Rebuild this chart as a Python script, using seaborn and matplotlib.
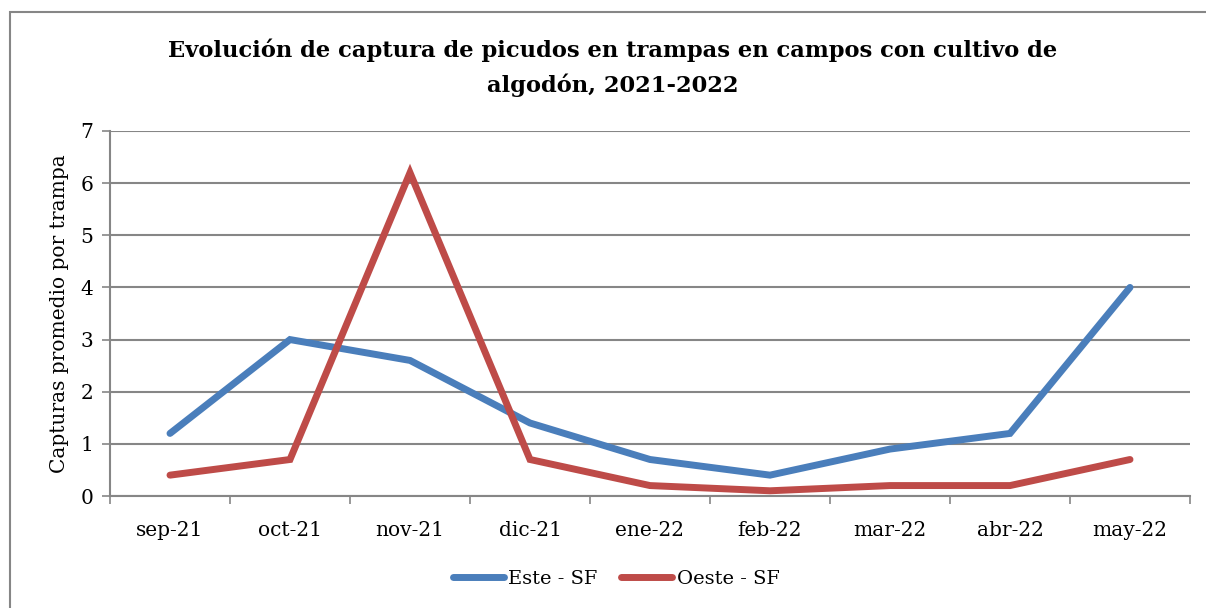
import matplotlib
matplotlib.use("Agg")
import matplotlib.pyplot as plt
import seaborn as sns
import pandas as pd
from matplotlib.patches import Rectangle
from matplotlib.lines import Line2D

months = ["sep-21", "oct-21", "nov-21", "dic-21", "ene-22", "feb-22", "mar-22", "abr-22", "may-22"]
este = [1.2, 3.0, 2.6, 1.4, 0.7, 0.4, 0.9, 1.2, 4.0]
oeste = [0.4, 0.7, 6.2, 0.7, 0.2, 0.1, 0.2, 0.2, 0.7]
series_names = ["Este - SF", "Oeste - SF"]
colors = ["#4A7EBB", "#BE4B48"]

df = pd.DataFrame({
    "mes": list(range(len(months))) * 2,
    "valor": este + oeste,
    "serie": [series_names[0]] * len(months) + [series_names[1]] * len(months),
})

sns.set_theme(style="white")
plt.rcParams["font.family"] = ["DejaVu Serif"]
plt.rcParams["text.color"] = "black"
plt.rcParams["xtick.color"] = "black"
plt.rcParams["ytick.color"] = "black"
plt.rcParams["axes.labelcolor"] = "black"

fig = plt.figure(figsize=(12.06, 6.08), dpi=100)
ax = fig.add_axes([110/1206, 1-496/608, 1080/1206, 365/608])

sns.lineplot(data=df, x="mes", y="valor", hue="serie", palette=colors, ax=ax,
             linewidth=5, legend=False, solid_capstyle="round", solid_joinstyle="miter")

ax.set_xlim(-0.5, len(months) - 0.5)
ax.set_ylim(0, 7)
ax.set_yticks(range(0, 8))
ax.yaxis.grid(True, color="#868686", linewidth=1.5)
ax.set_axisbelow(True)
ax.set_xticks(range(len(months)))
ax.set_xticklabels(months, fontsize=14.5)
ax.tick_params(axis="x", length=0, pad=18)
ax.set_xticks([i - 0.5 for i in range(len(months) + 1)], minor=True)
ax.tick_params(axis="x", which="minor", length=6, width=1.2, color="#868686", direction="out", bottom=True)
ax.tick_params(axis="y", labelsize=14.5, length=6, width=1.2, color="#868686", left=True, pad=6)
for s in ["top", "right"]:
    ax.spines[s].set_visible(False)
for s in ["left", "bottom"]:
    ax.spines[s].set_color("#868686")
    ax.spines[s].set_linewidth(1.5)
ax.set_xlabel("")
ax.set_ylabel("Capturas promedio por trampa", fontsize=14.5, labelpad=8)

fig.suptitle("Evolución de captura de picudos en trampas en campos con cultivo de\nalgodón, 2021-2022",
             x=0.5077, y=0.936, fontsize=16.3, fontweight="bold", linespacing=1.6)

handles = [Line2D([], [], color=c, linewidth=5, solid_capstyle="round") for c in colors]
fig.legend(handles, series_names, loc="center", bbox_to_anchor=(0.511, 1-579/608), ncol=2,
           frameon=False, fontsize=14, handlelength=2.6, handletextpad=0.25, columnspacing=1.2)

fig.patches.append(Rectangle((10/1206, -0.2), 1.2, 0.2 + 1 - 12/608, transform=fig.transFigure,
                             fill=False, edgecolor="#868686", linewidth=1.5))

fig.savefig("out.png", dpi=100)
